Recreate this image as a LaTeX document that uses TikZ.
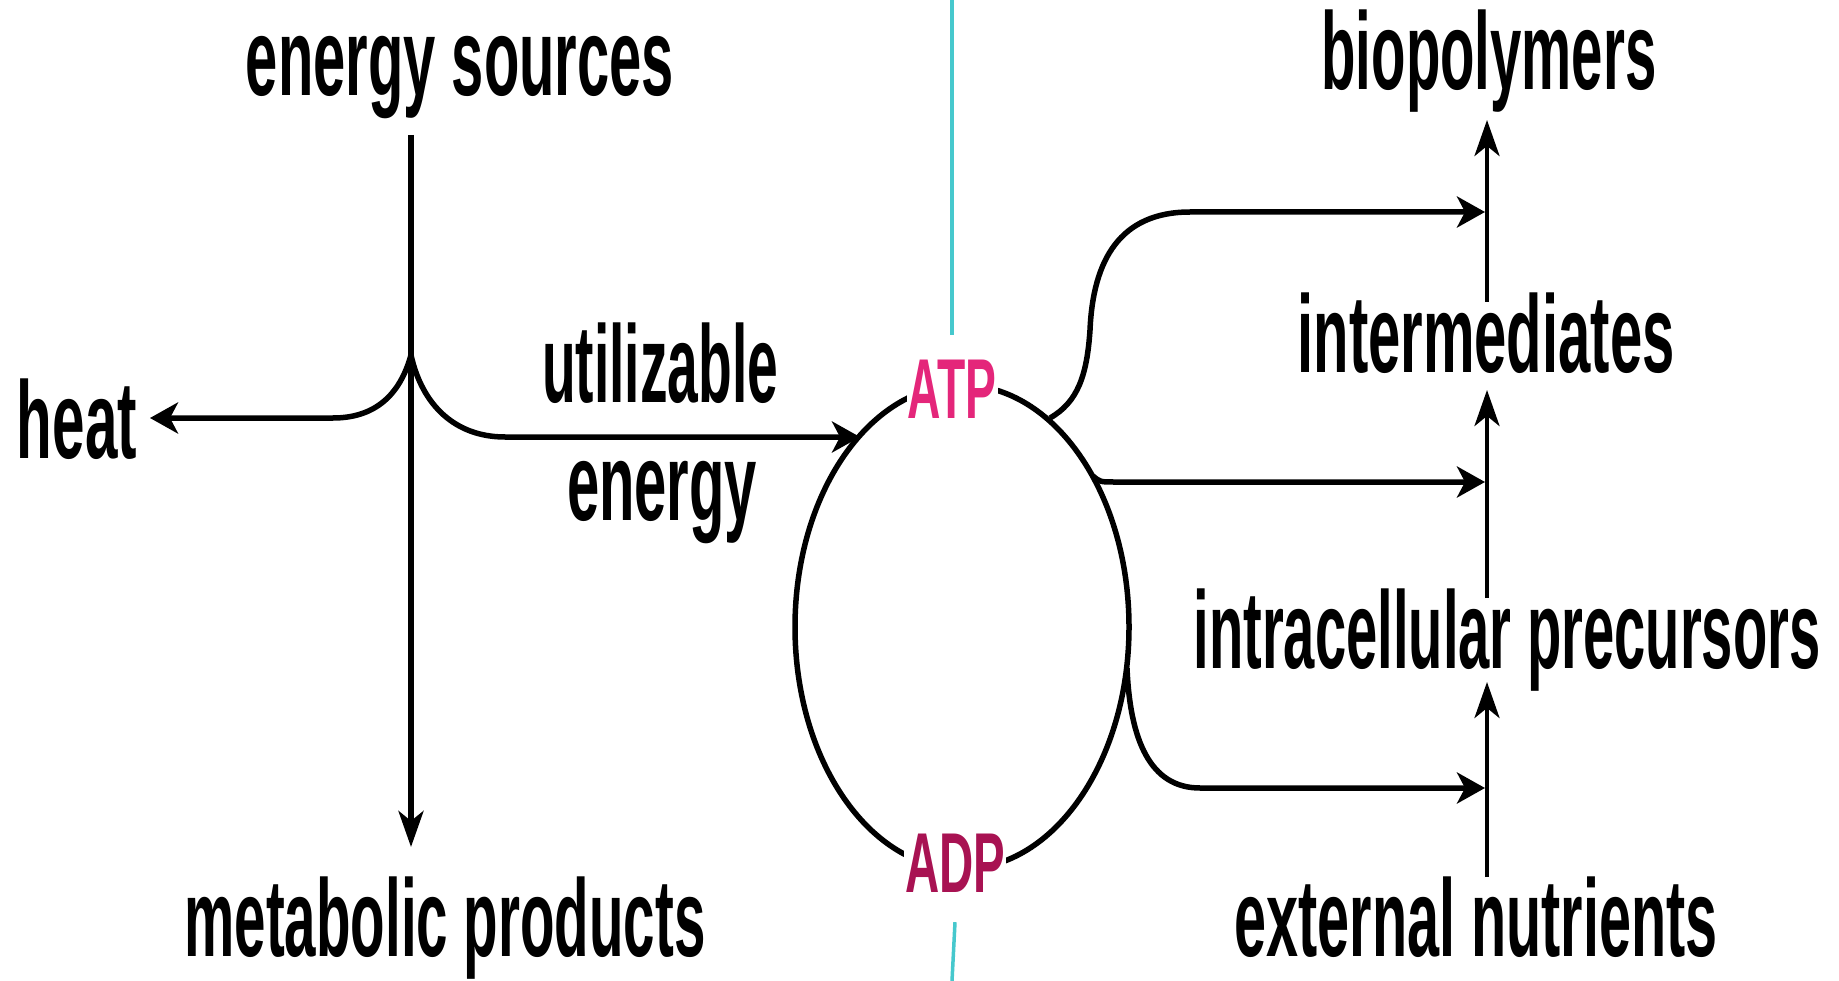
\documentclass[tikz,border=0pt]{standalone}
\usepackage{fontspec}
\setmainfont{Liberation Sans}
\usetikzlibrary{arrows.meta,shapes.geometric}
\definecolor{atpcol}{RGB}{228,38,122}
\definecolor{adpcol}{RGB}{168,18,82}
\definecolor{cyanline}{RGB}{70,200,205}
\newcommand\lab[2]{\resizebox{#1pt}{\height}{#2}}
\begin{document}
\begin{tikzpicture}[x=1pt,y=-1pt,
  lbl/.style={inner sep=0pt, anchor=base, font=\fontsize{110}{110}\selectfont\bfseries},
  nuc/.style={inner xsep=1pt, anchor=base, fill=white, font=\fontsize{85}{85}\selectfont\bfseries},
  ln/.style={line width=5.5pt, black},
  arrh/.style={ln, -{Stealth[length=28pt,width=31pt,inset=8pt]}},
  arrv/.style={ln, -{Stealth[length=36pt,width=25pt,inset=10pt]}},
  sep/.style={line width=3.5pt, cyanline},
]
\useasboundingbox[fill=white] (0,0) rectangle (1839,981);

% labels
\node[lbl] (es)    at (460,96)  {\lab{428}{energy sources}};
\node[lbl] (bio)   at (1489,90) {\lab{335}{biopolymers}};
\node[lbl] (heat)  at (77,458)  {\lab{120}{heat}};
\node[lbl] (util)  at (660,402) {\lab{236}{utilizable}};
\node[lbl] (uen)   at (662,520) {\lab{190}{energy}};
\node[lbl] (inter) at (1486,372) {\lab{377}{intermediates}};
\node[lbl] (intra) at (1507,668) {\lab{627}{intracellular precursors}};
\node[lbl] (ext)   at (1476,956) {\lab{483}{external nutrients}};
\node[lbl] (meta)  at (445,956) {\lab{521}{metabolic products}};

% separator and cycle
\coordinate (sepTop) at (952,0);
\coordinate (sepBot) at (952,981);
\node[draw, ellipse, line width=5.5pt, inner sep=0pt, minimum width=334pt, minimum height=484pt] (cyc) at (962,627) {};
\node[nuc, text=atpcol, inner ysep=24pt] (atp) at (952,418) {\lab{89}{ATP}};
\node[nuc, text=adpcol, inner ysep=30pt] (adp) at (955,892) {\lab{100}{ADP}};
\draw[sep] (sepTop) -- (atp.north);
\draw[sep] (adp.south) -- (sepBot);

% left side
\coordinate (esB)  at (411,135);
\coordinate (jL)   at (411,355);
\coordinate (metT) at (411,847);
\coordinate (heatT) at (150,418);
\coordinate (cycIn) at (860,437);
\draw[arrv] (esB) -- (metT);
\draw[arrh] (jL) .. controls (400,395) and (375,418) .. (333,418) -- (heatT);
\draw[arrh] (jL) .. controls (422,405) and (455,437) .. (505,437) -- (cycIn);

% right side branches
\coordinate (b1) at (1050,418);
\coordinate (b2) at (1093,476);
\coordinate (b3) at (1127,668);
\coordinate (t1) at (1485,212);
\coordinate (t2) at (1485,482);
\coordinate (t3) at (1485,788);
\draw[arrh] (b1) .. controls (1078,402) and (1087,375) .. (1090,330)
              .. controls (1093,260) and (1120,212) .. (1190,212) -- (t1);
\draw[arrh] (b2) .. controls (1100,482) .. (1115,482) -- (t2);
\draw[arrh] (b3) .. controls (1130,740) and (1150,788) .. (1200,788) -- (t3);

% right vertical column
\coordinate (v1a) at (1487,302);
\coordinate (v1b) at (1487,120);
\coordinate (v2a) at (1487,598);
\coordinate (v2b) at (1487,390);
\coordinate (v3a) at (1487,877);
\coordinate (v3b) at (1487,682);
\draw[arrv, line width=4.5pt] (v1a) -- (v1b);
\draw[arrv, line width=4.5pt] (v2a) -- (v2b);
\draw[arrv, line width=4.5pt] (v3a) -- (v3b);
\end{tikzpicture}
\end{document}
